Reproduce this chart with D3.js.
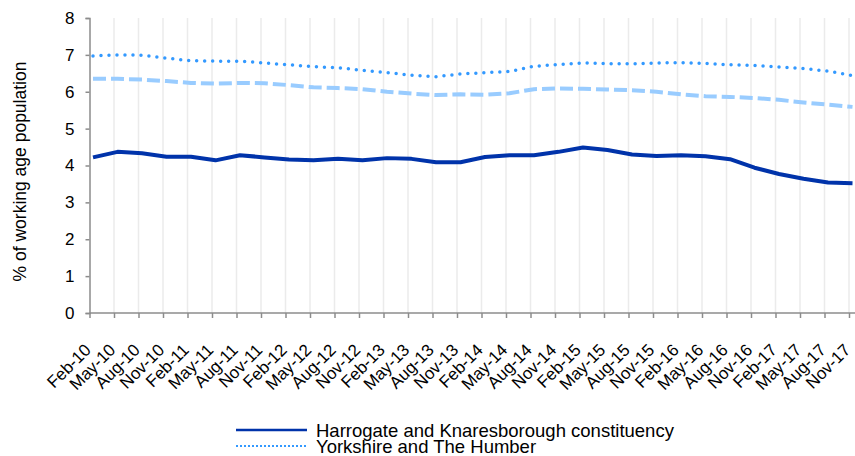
<!DOCTYPE html>
<html>
<head>
<meta charset="utf-8">
<script src="https://cdn.jsdelivr.net/npm/d3@7"></script>
<style>
  body { margin: 0; background: #fff; }
  svg { display: block; font-family: "Liberation Sans", Arial, sans-serif; }
</style>
</head>
<body>
<script>
const width = 855;
const height = 456;

// quarterly periods, Feb-10 .. Nov-17
const periods = ["Feb-10","May-10","Aug-10","Nov-10","Feb-11","May-11","Aug-11","Nov-11",
  "Feb-12","May-12","Aug-12","Nov-12","Feb-13","May-13","Aug-13","Nov-13",
  "Feb-14","May-14","Aug-14","Nov-14","Feb-15","May-15","Aug-15","Nov-15",
  "Feb-16","May-16","Aug-16","Nov-16","Feb-17","May-17","Aug-17","Nov-17"];

const harrogate = [4.22,4.37,4.33,4.24,4.24,4.14,4.28,4.22,4.16,4.14,4.18,4.14,4.20,4.18,4.09,4.09,
  4.23,4.28,4.28,4.37,4.49,4.42,4.30,4.26,4.28,4.25,4.17,3.94,3.77,3.64,3.54,3.52];
const yorkshire = [6.97,7.00,6.99,6.91,6.84,6.83,6.83,6.78,6.73,6.68,6.65,6.58,6.52,6.45,6.41,6.48,
  6.52,6.55,6.69,6.74,6.78,6.76,6.76,6.78,6.79,6.77,6.73,6.71,6.67,6.63,6.56,6.44];
const greatBritain = [6.35,6.35,6.33,6.29,6.24,6.22,6.24,6.23,6.18,6.12,6.10,6.07,6.00,5.95,5.91,5.93,
  5.92,5.96,6.07,6.09,6.08,6.06,6.04,6.00,5.93,5.88,5.86,5.83,5.78,5.71,5.65,5.59];

const yTicks = [0,1,2,3,4,5,6,7,8];

const series = [
  {name: "Great Britain", values: greatBritain, color: "#99ccff", width: 4, dash: "13,5", cap: "butt"},
  {name: "Yorkshire and The Humber", values: yorkshire, color: "#3399ff", width: 3.5, dash: "0,8", cap: "round"},
  {name: "Harrogate and Knaresborough constituency", values: harrogate, color: "#0033aa", width: 4, dash: null, cap: "butt"}
];

const svg = d3.select("body").append("svg")
    .attr("width", width)
    .attr("height", height);

const plotLeft = 89.5, plotRight = 855, plotTop = 18, plotBottom = 313;

let xScale = d3.scalePoint().domain(periods).range([89.5, 849]);
let xLine = d3.scalePoint().domain(periods).range([93, 852.5]);
let yScale = d3.scaleLinear().domain([0, 8]).range([plotBottom, plotTop]);

// vertical gridlines
svg.append("g")
  .selectAll("line")
  .data(periods.slice(1))
  .enter().append("line")
    .attr("x1", d => xScale(d))
    .attr("x2", d => xScale(d))
    .attr("y1", plotTop)
    .attr("y2", plotBottom)
    .attr("stroke", "#ebebeb")
    .attr("stroke-width", 1.5);

// y axis
const yAxis = svg.append("g")
    .attr("transform", "translate(" + plotLeft + ",0)")
  .call(d3.axisLeft(yScale).tickValues(yTicks).tickSize(4).tickPadding(11));
yAxis.select(".domain").attr("stroke", "#8c8c8c").attr("stroke-width", 1.5);
yAxis.selectAll(".tick line").attr("stroke", "#8c8c8c").attr("stroke-width", 1.5);
yAxis.selectAll(".tick text")
  .attr("font-size", "17px")
  .attr("font-family", "Liberation Sans, Arial, sans-serif")
  .attr("fill", "#000");

// x axis
const xAxis = svg.append("g")
    .attr("transform", "translate(0," + plotBottom + ")")
  .call(d3.axisBottom(xScale).tickSize(5).tickSizeOuter(0));
xAxis.select(".domain")
  .attr("d", "M" + plotLeft + ",0H" + plotRight)
  .attr("stroke", "#8c8c8c").attr("stroke-width", 1.5);
xAxis.selectAll(".tick line").attr("stroke", "#8c8c8c").attr("stroke-width", 1.5);
xAxis.selectAll(".tick text")
  .attr("font-size", "17px")
  .attr("font-family", "Liberation Sans, Arial, sans-serif")
  .attr("fill", "#000")
  .attr("text-anchor", "end")
  .attr("y", 0)
  .attr("dy", 0)
  .attr("transform", "translate(2,38) rotate(-45)");

// y axis title
svg.append("text")
  .attr("transform", "translate(26," + ((plotTop + plotBottom) / 2 + 6) + ") rotate(-90)")
  .attr("text-anchor", "middle")
  .attr("font-size", "17.5px")
  .attr("fill", "#000")
  .text("% of working age population");

// lines
const line = d3.line()
  .x((d, i) => xLine(periods[i]))
  .y(d => yScale(d));

series.forEach(function(s) {
  svg.append("path")
    .datum(s.values)
    .attr("fill", "none")
    .attr("stroke", s.color)
    .attr("stroke-width", s.width)
    .attr("stroke-dasharray", s.dash)
    .attr("stroke-linecap", s.cap)
    .attr("stroke-linejoin", "round")
    .attr("d", line);
});

// legend (third entry falls below the picture)
const legendItems = [series[2], series[1]];
const legend = svg.append("g").attr("transform", "translate(236,430)");
legendItems.forEach(function(s, i) {
  let g = legend.append("g").attr("transform", "translate(0," + (i * 16) + ")");
  g.append("line")
    .attr("x1", 0).attr("x2", 71)
    .attr("y1", 0).attr("y2", 0)
    .attr("stroke", s.color)
    .attr("stroke-width", s.dash ? 2 : 2.5)
    .attr("stroke-dasharray", s.dash ? "2,2" : null);
  g.append("text")
    .attr("x", 80)
    .attr("y", 7)
    .attr("font-size", "18.5px")
    .attr("fill", "#000")
    .text(s.name);
});
</script>
</body>
</html>
